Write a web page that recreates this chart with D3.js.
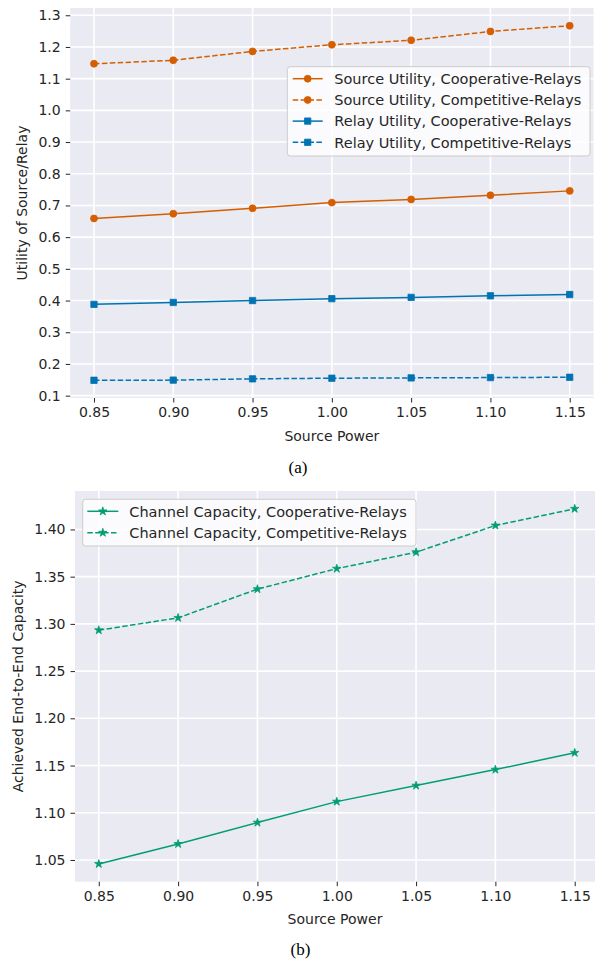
<!DOCTYPE html>
<html>
<head>
<meta charset="utf-8">
<script src="https://cdn.jsdelivr.net/npm/d3@7/dist/d3.min.js"></script>
<style>
  html, body { margin: 0; padding: 0; background: #ffffff; }
  svg { display: block; }
  text { font-family: "DejaVu Sans", sans-serif; fill: #262626; }
</style>
</head>
<body>
<svg id="chart" width="595" height="962"></svg>
<script>
// ---------- data ----------
const sourcePower = [0.85, 0.90, 0.95, 1.00, 1.05, 1.10, 1.15];
const xTickLabels = ["0.85", "0.90", "0.95", "1.00", "1.05", "1.10", "1.15"];

const sourceUtilityCoop = [0.659, 0.674, 0.691, 0.709, 0.719, 0.732, 0.746];
const sourceUtilityComp = [1.147, 1.158, 1.186, 1.207, 1.221, 1.249, 1.267];
const relayUtilityCoop  = [0.388, 0.394, 0.400, 0.406, 0.410, 0.415, 0.419];
const relayUtilityComp  = [0.1485, 0.149, 0.153, 0.155, 0.156, 0.157, 0.158];
const yTicksA = [0.1, 0.2, 0.3, 0.4, 0.5, 0.6, 0.7, 0.8, 0.9, 1.0, 1.1, 1.2, 1.3];

const capacityCoop = [1.0458, 1.067, 1.0896, 1.1118, 1.1288, 1.1457, 1.1635];
const capacityComp = [1.2933, 1.3064, 1.3368, 1.3585, 1.3759, 1.4042, 1.4219];
const yTicksB = [1.05, 1.10, 1.15, 1.20, 1.25, 1.30, 1.35, 1.40];

const seriesNamesA = ["Source Utility, Cooperative-Relays", "Source Utility, Competitive-Relays",
                      "Relay Utility, Cooperative-Relays", "Relay Utility, Competitive-Relays"];
const seriesNamesB = ["Channel Capacity, Cooperative-Relays", "Channel Capacity, Competitive-Relays"];

const ORANGE = "#D55E00", BLUE = "#0173B2", GREEN = "#029E73";

const svg = d3.select("#chart");

function margin(arr) {
  const mn = d3.min(arr), mx = d3.max(arr), m = (mx - mn) * 0.05;
  return [mn - m, mx + m];
}

function markerPath(type, size) {
  if (type === "circle") return d3.symbol(d3.symbolCircle, size)();
  if (type === "square") return d3.symbol(d3.symbolSquare, size)();
  return d3.symbol(d3.symbolStar, size)();
}

function panel(cfg) {
  const g = svg.append("g");
  const x = d3.scaleLinear().domain(margin(sourcePower)).range([cfg.left, cfg.right]);
  const allY = cfg.series.flatMap(s => s.values);
  const y = d3.scaleLinear().domain(margin(allY)).range([cfg.bottom, cfg.top]);

  // clip
  const clipId = "clip" + cfg.id;
  svg.append("clipPath").attr("id", clipId).append("rect")
    .attr("x", cfg.left).attr("y", cfg.top)
    .attr("width", cfg.right - cfg.left).attr("height", cfg.bottom - cfg.top);

  g.append("rect").attr("x", cfg.left).attr("y", cfg.top)
    .attr("width", cfg.right - cfg.left).attr("height", cfg.bottom - cfg.top)
    .attr("fill", "#EAEAF2");

  const grid = g.append("g").attr("clip-path", `url(#${clipId})`);
  grid.selectAll(".gx").data(sourcePower).enter().append("line")
    .attr("x1", d => x(d)).attr("x2", d => x(d))
    .attr("y1", cfg.top).attr("y2", cfg.bottom)
    .attr("stroke", "#ffffff").attr("stroke-width", 1.6);
  grid.selectAll(".gy").data(cfg.yTicks).enter().append("line")
    .attr("x1", cfg.left).attr("x2", cfg.right)
    .attr("y1", d => y(d)).attr("y2", d => y(d))
    .attr("stroke", "#ffffff").attr("stroke-width", 1.6);

  // axes
  const xAxis = d3.axisBottom(x).tickValues(sourcePower)
    .tickFormat((d, i) => xTickLabels[i]).tickSize(4.5).tickPadding(5);
  const gx = g.append("g").attr("transform", `translate(0,${cfg.bottom})`).call(xAxis);
  const yAxis = d3.axisLeft(y).tickValues(cfg.yTicks)
    .tickFormat(cfg.yFormat).tickSize(4.5).tickPadding(5);
  const gy = g.append("g").attr("transform", `translate(${cfg.left},0)`).call(yAxis);
  [gx, gy].forEach(a => {
    a.select(".domain").remove();
    a.selectAll(".tick line").attr("stroke", "#262626").attr("stroke-width", 1);
    a.selectAll(".tick text").attr("fill", "#262626")
      .style("font-family", "DejaVu Sans").style("font-size", "14px");
  });

  // axis labels
  g.append("text").attr("x", (cfg.left + Math.min(cfg.right, 595)) / 2 + cfg.xLabelShift)
    .attr("y", cfg.xLabelY).attr("text-anchor", "middle")
    .style("font-size", "14px").text("Source Power");
  g.append("text")
    .attr("transform", `translate(${cfg.yLabelX},${(cfg.top + cfg.bottom) / 2}) rotate(-90)`)
    .attr("text-anchor", "middle").style("font-size", "14px").text(cfg.yLabel);

  // lines
  const line = d3.line().x((d, i) => x(sourcePower[i])).y(d => y(d));
  const plot = g.append("g").attr("clip-path", `url(#${clipId})`);
  cfg.series.forEach(s => {
    plot.append("path").attr("d", line(s.values)).attr("fill", "none")
      .attr("stroke", s.color).attr("stroke-width", 1.5)
      .attr("stroke-dasharray", s.dashed ? "5.5,2.4" : null);
    plot.selectAll(null).data(s.values).enter().append("path")
      .attr("d", markerPath(s.marker, s.msize))
      .attr("transform", (d, i) => `translate(${x(sourcePower[i])},${y(d)})`)
      .attr("fill", s.color).attr("stroke", s.color).attr("stroke-width", 0.8);
  });

  // legend
  const L = cfg.legend;
  const lg = g.append("g");
  lg.append("rect").attr("x", L.x).attr("y", L.y).attr("width", L.w).attr("height", L.h)
    .attr("rx", 3).attr("fill", "#ffffff").attr("fill-opacity", 0.8)
    .attr("stroke", "#cccccc").attr("stroke-width", 1);
  cfg.series.forEach((s, i) => {
    const cy = L.firstRow + i * L.rowGap;
    lg.append("line").attr("x1", L.hx1).attr("x2", L.hx2).attr("y1", cy).attr("y2", cy)
      .attr("stroke", s.color).attr("stroke-width", 1.5)
      .attr("stroke-dasharray", s.dashed ? "5.5,2.4" : null);
    lg.append("path").attr("d", markerPath(s.marker, s.msize))
      .attr("transform", `translate(${(L.hx1 + L.hx2) / 2},${cy})`)
      .attr("fill", s.color).attr("stroke", s.color).attr("stroke-width", 0.8);
    lg.append("text").attr("x", L.tx).attr("y", cy).attr("dy", "0.36em")
      .style("font-size", L.fs + "px").text(s.name);
  });
}

panel({
  id: "a", left: 70.2, right: 593.5, top: 8, bottom: 398,
  yTicks: yTicksA, yFormat: d3.format(".1f"),
  yLabel: "Utility of Source/Relay", yLabelX: 27, xLabelY: 440.5, xLabelShift: 0,
  series: [
    { name: seriesNamesA[0], values: sourceUtilityCoop, color: ORANGE, dashed: false, marker: "circle", msize: 38 },
    { name: seriesNamesA[1], values: sourceUtilityComp, color: ORANGE, dashed: true, marker: "circle", msize: 38 },
    { name: seriesNamesA[2], values: relayUtilityCoop, color: BLUE, dashed: false, marker: "square", msize: 40 },
    { name: seriesNamesA[3], values: relayUtilityComp, color: BLUE, dashed: true, marker: "square", msize: 40 }
  ],
  legend: { x: 287.3, y: 66.7, w: 302.7, h: 89.3, firstRow: 78.7, rowGap: 21.2,
            hx1: 292.7, hx2: 322.7, tx: 334.3, fs: 14.5 }
});

panel({
  id: "b", left: 75, right: 598.5, top: 491, bottom: 881.7,
  yTicks: yTicksB, yFormat: d3.format(".2f"),
  yLabel: "Achieved End-to-End Capacity", yLabelX: 23, xLabelY: 924, xLabelShift: 0,
  series: [
    { name: seriesNamesB[0], values: capacityCoop, color: GREEN, dashed: false, marker: "star", msize: 22 },
    { name: seriesNamesB[1], values: capacityComp, color: GREEN, dashed: true, marker: "star", msize: 22 }
  ],
  legend: { x: 82.7, y: 499.3, w: 333.3, h: 46.7, firstRow: 511.3, rowGap: 21.4,
            hx1: 87.3, hx2: 118.3, tx: 129.3, fs: 14.5 }
});

// captions
svg.append("text").attr("x", 298).attr("y", 473).attr("text-anchor", "middle")
  .style("font-family", "Liberation Serif, serif").style("font-size", "17px").style("fill", "#000")
  .text("(a)");
svg.append("text").attr("x", 300.5).attr("y", 955).attr("text-anchor", "middle")
  .style("font-family", "Liberation Serif, serif").style("font-size", "17px").style("fill", "#000")
  .text("(b)");
</script>
</body>
</html>
